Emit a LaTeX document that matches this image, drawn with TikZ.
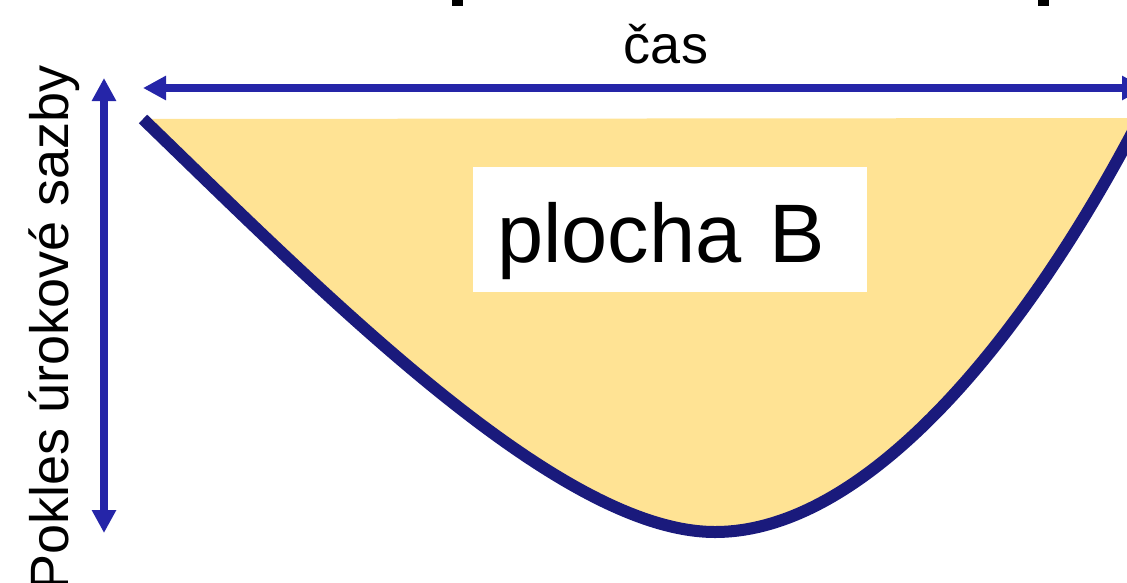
\documentclass[tikz,border=0pt]{standalone}
\usepackage{fontspec}
\setmainfont{Liberation Sans}
\usetikzlibrary{arrows.meta}
\definecolor{axisBlue}{RGB}{37,37,168}
\definecolor{curveNavy}{RGB}{26,26,124}
\definecolor{areaYellow}{RGB}{255,227,148}
\newcommand{\DropCurve}{(143,119) .. controls (330,300) and (560,532) .. (715,532) .. controls (870,532) and (1030,330) .. (1140,118)}

\begin{document}
\begin{tikzpicture}[x=1pt,y=-1pt,
  axisarrow/.style={axisBlue,{Triangle[length=23pt,width=23pt]}-{Triangle[length=23pt,width=23pt]}},
  bigtext/.style={inner sep=0pt,font=\fontsize{#1}{#1}\selectfont}]
\useasboundingbox (0,0) rectangle (1127,582);
\clip (0,0) rectangle (1127,582);
\fill[black] (452,0) rectangle (463,6);
\fill[black] (1038,0) rectangle (1049,6);
\fill[areaYellow] \DropCurve -- cycle;
\draw[curveNavy,line width=12pt] \DropCurve;
\coordinate (timeL) at (143,88);
\coordinate (timeR) at (1145,88);
\coordinate (rateT) at (104,78);
\coordinate (rateB) at (104,533);
\draw[axisarrow,line width=8.5pt] (timeL) -- (timeR);
\draw[axisarrow,line width=8pt] (rateT) -- (rateB);
\node[bigtext=54,anchor=base] (cas) at (666,63) {čas};
\node[bigtext=54,anchor=base,rotate=90] (pokles) at (68,328) {Pokles úrokové sazby};
\node[bigtext=83,fill=white,inner xsep=24pt,text width=346pt,align=left,minimum height=125pt,text height=65pt,text depth=0pt] (plochaB) at (670,229.5) {plocha B};
\end{tikzpicture}
\end{document}
